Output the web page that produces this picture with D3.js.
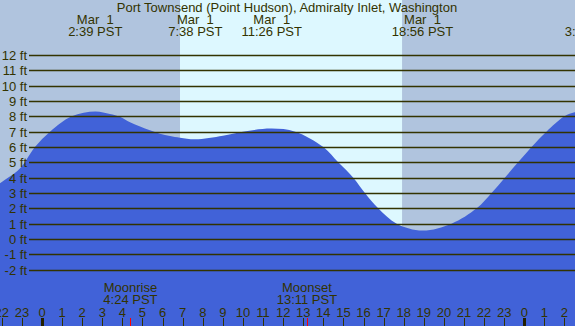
<!DOCTYPE html>
<html>
<head>
<meta charset="utf-8">
<script src="https://cdn.jsdelivr.net/npm/d3@7"></script>
<style>
  html, body { margin: 0; padding: 0; background: #b0c4de; }
  svg { display: block; }
  text { font-family: "Liberation Sans", Arial, sans-serif; font-size: 13px; fill: #333300; white-space: pre; }
</style>
</head>
<body>
<svg id="chart" width="575" height="326"></svg>
<script>
// tide heights (ft), hours since midnight Mar 1 (PST)
var tideHours = [-2.6, -2.09, -1.1, -0.35, 0.4, 1.48, 2.65, 3.38, 3.88, 4.38, 4.88, 5.37, 5.87, 6.37, 6.87, 7.63,
  9.0, 10.0, 11.43, 12.6, 14.0, 14.74, 15.49, 16.07, 16.73, 17.65, 18.93, 20.38, 21.63, 22.37, 23.03, 23.69,
  24.36, 25.1, 26.0, 26.5, 27.0];
var tideFeet = [3.1, 3.63, 4.6, 6.0, 7.0, 8.0, 8.32, 8.15, 7.97, 7.61, 7.33, 7.09, 6.87, 6.72, 6.61, 6.5,
  6.74, 7.0, 7.2, 7.0, 6.0, 5.0, 4.0, 3.0, 2.0, 1.0, 0.55, 1.0, 2.0, 3.0, 4.0, 5.0,
  6.0, 7.0, 8.0, 8.26, 8.4];

// high / low tide labels along the top (next day's date falls off the right edge)
var tideEventDays = ["Mar  1", "Mar  1", "Mar  1", "Mar  1", ""];
var tideEventTimes = ["2:39", "7:38", "11:26", "18:56", "3:22"];
var tideEventOffsets = [0, 0, 0, 0, 24];

var moonNames = ["Moonrise", "Moonset"];
var moonTimes = ["4:24", "13:11"];

var sunTimes = ["6:52", "17:55"];   // sunrise, sunset

var feetTicks = d3.range(-2, 13);
var hourTicks = d3.range(-2, 27);

var title = "Port Townsend (Point Hudson), Admiralty Inlet, Washington";

var C = { NIGHT: "#b0c4de", DAY: "#ddf8ff", WATER: "#4162d8", INK: "#333300", MOON: "#ff0000" };
var W = 575, H = 326;

function toHours(s) { var p = s.split(":"); return +p[0] + (+p[1]) / 60; }

var tide = tideHours.map(function(h, i) { return { h: h, ft: tideFeet[i] }; });

var x = d3.scaleLinear().domain([0, 24]).range([42, 524.3]);
var y = d3.scaleLinear().domain([0, 12]).range([239, 55]);

var svg = d3.select("#chart");

//* night / day background
svg.append("rect").attr("x", 0).attr("y", 0).attr("width", W).attr("height", H).attr("fill", C.NIGHT);
svg.append("rect")
  .attr("x", x(toHours(sunTimes[0])))
  .attr("y", 0)
  .attr("width", x(toHours(sunTimes[1])) - x(toHours(sunTimes[0])))
  .attr("height", H)
  .attr("fill", C.DAY);

//* water
var area = d3.area()
  .x(function(d) { return x(d.h); })
  .y0(H)
  .y1(function(d) { return y(d.ft); })
  .curve(d3.curveCatmullRom.alpha(0.5));

svg.append("path").datum(tide).attr("d", area).attr("fill", C.WATER);

//* feet grid lines + labels
var yAxis = svg.append("g");
feetTicks.forEach(function(f) {
  var yy = Math.round(y(f)) + 0.5;
  yAxis.append("line")
    .attr("x1", 29).attr("x2", W)
    .attr("y1", yy).attr("y2", yy)
    .attr("stroke", C.INK).attr("stroke-width", 1.3);
  yAxis.append("text")
    .attr("x", 27).attr("y", yy + 4.5)
    .style("text-anchor", "end")
    .text(f + " ft");
});

//* title
svg.append("text").attr("x", 287).attr("y", 12).style("text-anchor", "middle").text(title);

//* tide event labels
tideEventTimes.forEach(function(t, i) {
  var xx = x(toHours(t) + tideEventOffsets[i]);
  svg.append("text").attr("x", xx).attr("y", 23.5).style("text-anchor", "middle").text(tideEventDays[i]);
  svg.append("text").attr("x", xx).attr("y", 36).style("text-anchor", "middle").text(t + " PST");
});

//* moon labels + red ticks
moonNames.forEach(function(name, i) {
  var xx = x(toHours(moonTimes[i]));
  svg.append("text").attr("x", xx).attr("y", 292).style("text-anchor", "middle").text(name);
  svg.append("text").attr("x", xx).attr("y", 304).style("text-anchor", "middle").text(moonTimes[i] + " PST");
  svg.append("line")
    .attr("x1", Math.round(xx) + 0.5).attr("x2", Math.round(xx) + 0.5)
    .attr("y1", 318).attr("y2", H)
    .attr("stroke", C.MOON).attr("stroke-width", 1);
});

//* hour axis
var xAxis = svg.append("g");
hourTicks.forEach(function(h) {
  var xx = Math.round(x(h)) + 0.5;
  var midnight = (h % 24 === 0);
  xAxis.append("line")
    .attr("x1", xx).attr("x2", xx)
    .attr("y1", 318).attr("y2", H)
    .attr("stroke", midnight ? "#221f00" : C.INK)
    .attr("stroke-width", midnight ? 3 : 1);
  xAxis.append("text")
    .attr("x", x(h)).attr("y", 316.5)
    .style("text-anchor", "middle")
    .text((h + 24) % 24);
});
</script>
</body>
</html>
